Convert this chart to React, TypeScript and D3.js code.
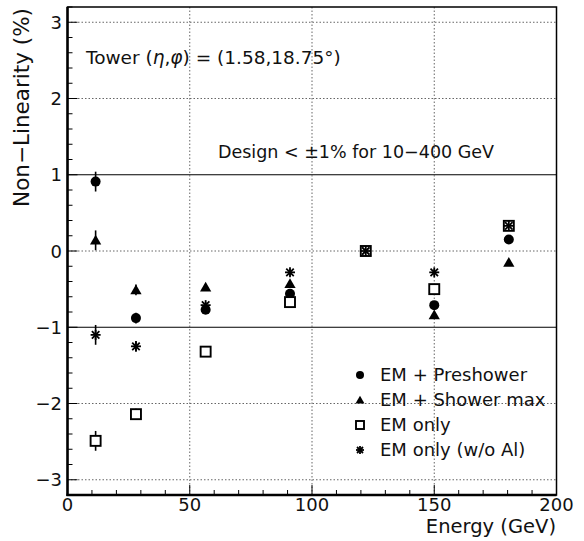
import * as d3 from "d3";

// beam energies (GeV) and non-linearity (%) per configuration
const energies = [11.5, 28, 56.5, 91, 122, 150, 180.5];
const preshower = [0.91, -0.88, -0.77, -0.56, 0, -0.71, 0.15];
const showerMax = [0.14, -0.51, -0.475, -0.43, 0, -0.84, -0.15];
const emOnly = [-2.49, -2.14, -1.32, -0.67, 0, -0.5, 0.33];
const emOnlyNoAl = [-1.1, -1.25, -0.71, -0.28, 0, -0.28, 0.33];
const errors = [0.13, 0.07, 0.04, 0.04, 0, 0.04, 0.04];

const xTicks = [0, 50, 100, 150, 200];
const yTicks = [-3, -2, -1, 0, 1, 2, 3];
const legendLabels = ["EM + Preshower", "EM + Shower max", "EM only", "EM only (w/o Al)"];

const W = 584;
const H = 541;
const FONT = "'DejaVu Sans', 'Liberation Sans', sans-serif";

const x = d3.scaleLinear().domain([0, 200]).range([67.5, 556.5]);
const y = d3.scaleLinear().domain([-3.2, 3.2]).range([495, 7]);

function Marker({ kind, cx, cy, s }: { kind: string; cx: number; cy: number; s: number }) {
  if (kind === "circle") return <circle cx={cx} cy={cy} r={s / 2} fill="#000" />;
  if (kind === "triangle") {
    const tri = d3.symbol().type(d3.symbolTriangle).size(s * s * 0.55)();
    return <path d={tri || ""} transform={`translate(${cx},${cy + 1})`} fill="#000" />;
  }
  if (kind === "square")
    return (
      <rect x={cx - s / 2} y={cy - s / 2} width={s} height={s} fill="#fff" stroke="#000" strokeWidth={1.9} />
    );
  // asterisk: four crossing strokes
  const r = s / 2;
  const d = r * 0.75;
  return (
    <g stroke="#000" strokeWidth={1.8}>
      <line x1={cx - r} y1={cy} x2={cx + r} y2={cy} />
      <line x1={cx} y1={cy - r} x2={cx} y2={cy + r} />
      <line x1={cx - d} y1={cy - d} x2={cx + d} y2={cy + d} />
      <line x1={cx - d} y1={cy + d} x2={cx + d} y2={cy - d} />
    </g>
  );
}

export default function App() {
  const series = [
    { kind: "circle", values: preshower },
    { kind: "triangle", values: showerMax },
    { kind: "square", values: emOnly },
    { kind: "asterisk", values: emOnlyNoAl },
  ];
  const [x0, x1] = x.range();
  const [yb, yt] = y.range();
  const yMinor = d3.range(-3.2, 3.21, 0.2).map((v) => Math.round(v * 10) / 10);
  const xMinor = d3.range(0, 201, 10);

  return (
    <svg width={W} height={H} style={{ position: "absolute", left: 0, top: 0, background: "#fff" }} fontFamily={FONT}>
      {/* grid */}
      {yTicks.map((t) => (
        <line
          key={"gy" + t}
          x1={x0}
          x2={x1}
          y1={y(t)}
          y2={y(t)}
          stroke={Math.abs(t) === 1 ? "#000" : "#666"}
          strokeWidth={1}
          strokeDasharray={Math.abs(t) === 1 ? undefined : "1.5,2"}
        />
      ))}
      {[50, 100, 150].map((t) => (
        <line key={"gx" + t} x1={x(t)} x2={x(t)} y1={yt} y2={yb} stroke="#666" strokeDasharray="1.5,2" />
      ))}

      {/* ticks */}
      {yMinor.map((t) => {
        const major = Number.isInteger(t);
        return <line key={"ty" + t} x1={x0} x2={x0 + (major ? 10 : 5)} y1={y(t)} y2={y(t)} stroke="#000" />;
      })}
      {xMinor.map((t) => {
        const major = t % 50 === 0;
        return <line key={"tx" + t} x1={x(t)} x2={x(t)} y1={yb} y2={yb - (major ? 10 : 5)} stroke="#000" />;
      })}

      {/* frame */}
      <rect x={x0} y={yt} width={x1 - x0} height={yb - yt} fill="none" stroke="#000" strokeWidth={1.5} />
      <line x1={x0} x2={x0} y1={yt} y2={yb + 1} stroke="#000" strokeWidth={2.5} />
      <line x1={x0 - 1} x2={x1} y1={yb} y2={yb} stroke="#000" strokeWidth={2.5} />

      {/* tick labels */}
      {yTicks.map((t) => (
        <text key={"ly" + t} x={62} y={y(t) + 6.5} fontSize={18} textAnchor="end" fill="#111">
          {t < 0 ? "\u2212" + Math.abs(t) : t}
        </text>
      ))}
      {xTicks.map((t) => (
        <text key={"lx" + t} x={x(t)} y={511} fontSize={18} textAnchor="middle" fill="#111">
          {t}
        </text>
      ))}

      {/* axis titles */}
      <text x={556} y={533} fontSize={19.5} textAnchor="end" fill="#111">
        Energy (GeV)
      </text>
      <text transform="translate(29,8) rotate(-90)" fontSize={21.5} textAnchor="end" fill="#111">
        Non{"\u2212"}Linearity (%)
      </text>

      {/* annotations */}
      <text x={86} y={64} fontSize={18.5} fill="#111">
        Tower (<tspan fontStyle="italic">η</tspan>,<tspan fontStyle="italic">φ</tspan>) = (1.58,18.75°)
      </text>
      <text x={218} y={158} fontSize={17.5} fill="#111">
        Design &lt; ±1% for 10{"\u2212"}400 GeV
      </text>

      {/* data */}
      {series.map((s) =>
        energies.map((e, i) => (
          <line
            key={s.kind + "e" + i}
            x1={x(e)}
            x2={x(e)}
            y1={y(s.values[i] - errors[i])}
            y2={y(s.values[i] + errors[i])}
            stroke="#000"
            strokeWidth={1.6}
          />
        ))
      )}
      {series.map((s) =>
        energies.map((e, i) => <Marker key={s.kind + i} kind={s.kind} cx={x(e)} cy={y(s.values[i])} s={10} />)
      )}

      {/* legend */}
      {series.map((s, i) => (
        <g key={"lg" + i}>
          <Marker kind={s.kind} cx={360} cy={375 + i * 25} s={8} />
          <text x={380} y={381 + i * 25} fontSize={18} fill="#111">
            {legendLabels[i]}
          </text>
        </g>
      ))}
    </svg>
  );
}
